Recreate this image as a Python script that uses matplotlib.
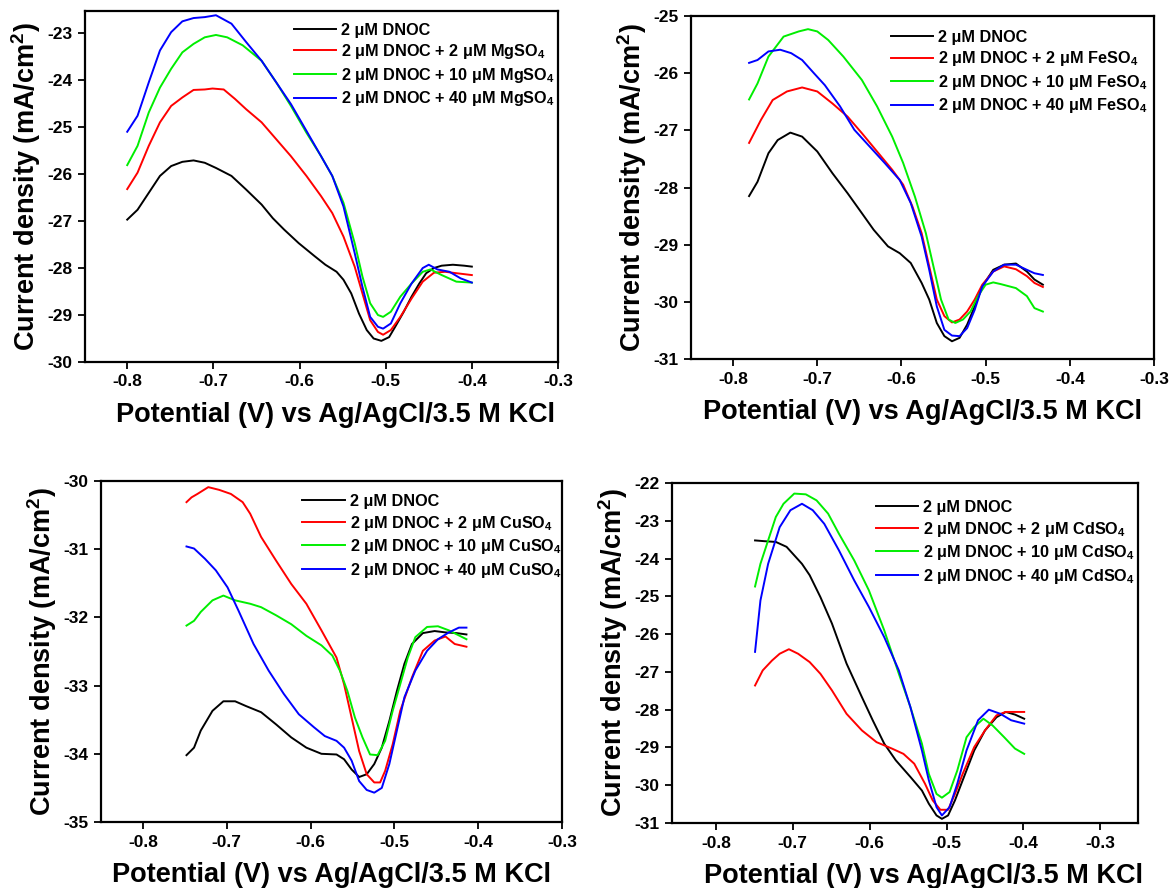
import matplotlib
matplotlib.use("Agg")
import matplotlib.pyplot as plt

plt.rcParams['font.family'] = ['Liberation Sans', 'DejaVu Sans']
plt.rcParams['font.weight'] = 'bold'
plt.rcParams['mathtext.fontset'] = 'custom'
plt.rcParams['mathtext.rm'] = 'Liberation Sans:bold'
plt.rcParams['mathtext.bf'] = 'Liberation Sans:bold'
plt.rcParams['mathtext.default'] = 'bf'

# ---------------- Panel 1: MgSO4 ----------------
mg_black_x = [-0.8, -0.788, -0.775, -0.762, -0.749, -0.736, -0.723, -0.71, -0.697, -0.679, -0.662, -0.644, -0.631, -0.618, -0.601, -0.583, -0.570, -0.557, -0.549, -0.540, -0.531, -0.522, -0.514, -0.505, -0.496, -0.488, -0.479, -0.470, -0.461, -0.453, -0.444, -0.435, -0.422, -0.409, -0.4]
mg_black_y = [-26.97, -26.76, -26.4, -26.04, -25.83, -25.74, -25.71, -25.76, -25.87, -26.04, -26.33, -26.65, -26.94, -27.18, -27.47, -27.74, -27.93, -28.08, -28.25, -28.54, -28.97, -29.32, -29.5, -29.55, -29.47, -29.22, -28.93, -28.61, -28.33, -28.11, -28.0, -27.95, -27.93, -27.95, -27.97]
mg_red_x = [-0.8, -0.788, -0.775, -0.762, -0.749, -0.736, -0.723, -0.71, -0.701, -0.688, -0.675, -0.662, -0.644, -0.627, -0.610, -0.592, -0.575, -0.562, -0.549, -0.536, -0.527, -0.518, -0.509, -0.503, -0.494, -0.483, -0.470, -0.457, -0.444, -0.431, -0.418, -0.4]
mg_red_y = [-26.32, -25.97, -25.4, -24.9, -24.55, -24.37, -24.21, -24.2, -24.18, -24.2, -24.4, -24.62, -24.9, -25.26, -25.62, -26.04, -26.47, -26.83, -27.33, -27.97, -28.54, -29.11, -29.36, -29.42, -29.32, -29.04, -28.65, -28.29, -28.1, -28.08, -28.11, -28.15]
mg_green_x = [-0.8, -0.788, -0.775, -0.762, -0.749, -0.736, -0.723, -0.71, -0.697, -0.684, -0.666, -0.644, -0.627, -0.610, -0.592, -0.575, -0.562, -0.549, -0.536, -0.527, -0.518, -0.509, -0.503, -0.494, -0.483, -0.470, -0.457, -0.448, -0.435, -0.418, -0.4]
mg_green_y = [-25.81, -25.4, -24.69, -24.16, -23.76, -23.41, -23.23, -23.09, -23.04, -23.09, -23.26, -23.59, -24.05, -24.55, -25.12, -25.62, -26.04, -26.61, -27.47, -28.18, -28.75, -29.0, -29.04, -28.93, -28.61, -28.33, -28.08, -28.03, -28.15, -28.29, -28.31]
mg_blue_x = [-0.8, -0.788, -0.775, -0.762, -0.749, -0.736, -0.723, -0.71, -0.697, -0.679, -0.662, -0.644, -0.627, -0.610, -0.592, -0.575, -0.562, -0.549, -0.536, -0.527, -0.518, -0.509, -0.503, -0.494, -0.483, -0.470, -0.457, -0.450, -0.440, -0.426, -0.413, -0.4]
mg_blue_y = [-25.1, -24.76, -24.05, -23.37, -22.98, -22.75, -22.68, -22.66, -22.62, -22.8, -23.19, -23.59, -24.05, -24.51, -25.08, -25.62, -26.04, -26.69, -27.68, -28.4, -29.04, -29.25, -29.29, -29.18, -28.75, -28.33, -28.0, -27.93, -28.03, -28.08, -28.22, -28.31]

# ---------------- Panel 2: FeSO4 ----------------
fe_black_x = [-0.781, -0.771, -0.758, -0.747, -0.732, -0.718, -0.7, -0.682, -0.664, -0.647, -0.633, -0.616, -0.602, -0.589, -0.576, -0.567, -0.558, -0.549, -0.540, -0.531, -0.522, -0.513, -0.504, -0.491, -0.478, -0.464, -0.451, -0.442, -0.432]
fe_black_y = [-28.15, -27.9, -27.4, -27.17, -27.04, -27.11, -27.37, -27.75, -28.1, -28.45, -28.74, -29.03, -29.15, -29.32, -29.67, -29.96, -30.37, -30.6, -30.69, -30.63, -30.4, -30.08, -29.73, -29.44, -29.35, -29.33, -29.47, -29.61, -29.7]
fe_red_x = [-0.781, -0.767, -0.753, -0.736, -0.718, -0.7, -0.682, -0.664, -0.647, -0.629, -0.611, -0.598, -0.587, -0.576, -0.567, -0.558, -0.549, -0.540, -0.531, -0.522, -0.513, -0.504, -0.491, -0.478, -0.464, -0.451, -0.442, -0.432]
fe_red_y = [-27.22, -26.82, -26.47, -26.32, -26.25, -26.32, -26.53, -26.76, -27.05, -27.37, -27.69, -27.95, -28.33, -28.8, -29.38, -29.96, -30.25, -30.36, -30.31, -30.17, -29.96, -29.7, -29.47, -29.38, -29.43, -29.55, -29.67, -29.74]
fe_green_x = [-0.781, -0.771, -0.758, -0.74, -0.722, -0.711, -0.7, -0.687, -0.669, -0.647, -0.629, -0.611, -0.598, -0.584, -0.571, -0.562, -0.553, -0.544, -0.536, -0.527, -0.518, -0.509, -0.5, -0.491, -0.482, -0.464, -0.451, -0.442, -0.432]
fe_green_y = [-26.46, -26.18, -25.71, -25.36, -25.27, -25.23, -25.27, -25.42, -25.71, -26.12, -26.58, -27.11, -27.57, -28.16, -28.8, -29.38, -29.96, -30.31, -30.37, -30.31, -30.17, -29.9, -29.7, -29.66, -29.69, -29.76, -29.9, -30.11, -30.17]
fe_blue_x = [-0.781, -0.771, -0.758, -0.744, -0.731, -0.718, -0.704, -0.691, -0.673, -0.656, -0.638, -0.62, -0.602, -0.589, -0.576, -0.567, -0.558, -0.549, -0.540, -0.531, -0.522, -0.513, -0.504, -0.491, -0.478, -0.464, -0.451, -0.442, -0.432]
fe_blue_y = [-25.82, -25.77, -25.62, -25.59, -25.65, -25.77, -26.0, -26.21, -26.58, -26.99, -27.28, -27.57, -27.87, -28.27, -28.86, -29.44, -30.08, -30.49, -30.59, -30.6, -30.46, -30.14, -29.73, -29.47, -29.35, -29.35, -29.44, -29.5, -29.53]

# ---------------- Panel 3: CuSO4 ----------------
cu_black_x = [-0.748, -0.739, -0.731, -0.717, -0.704, -0.69, -0.677, -0.659, -0.641, -0.623, -0.605, -0.587, -0.569, -0.560, -0.551, -0.542, -0.533, -0.524, -0.515, -0.506, -0.497, -0.488, -0.479, -0.466, -0.452, -0.439, -0.426, -0.414]
cu_black_y = [-34.02, -33.91, -33.66, -33.37, -33.23, -33.23, -33.3, -33.39, -33.57, -33.76, -33.91, -34.0, -34.01, -34.08, -34.23, -34.34, -34.3, -34.15, -33.91, -33.52, -33.08, -32.68, -32.39, -32.23, -32.2, -32.22, -32.23, -32.25]
cu_red_x = [-0.748, -0.742, -0.735, -0.722, -0.709, -0.695, -0.681, -0.672, -0.659, -0.641, -0.623, -0.605, -0.587, -0.569, -0.560, -0.551, -0.542, -0.533, -0.524, -0.517, -0.511, -0.502, -0.493, -0.479, -0.466, -0.452, -0.439, -0.428, -0.414]
cu_red_y = [-30.31, -30.24, -30.19, -30.09, -30.13, -30.19, -30.31, -30.48, -30.82, -31.17, -31.51, -31.8, -32.19, -32.59, -32.98, -33.47, -33.96, -34.3, -34.42, -34.42, -34.25, -33.86, -33.37, -32.88, -32.49, -32.34, -32.28, -32.39, -32.43]
cu_green_x = [-0.748, -0.739, -0.731, -0.717, -0.704, -0.69, -0.672, -0.659, -0.641, -0.623, -0.605, -0.587, -0.574, -0.565, -0.556, -0.547, -0.538, -0.529, -0.520, -0.511, -0.502, -0.493, -0.484, -0.475, -0.461, -0.448, -0.435, -0.414]
cu_green_y = [-32.12, -32.05, -31.92, -31.75, -31.68, -31.75, -31.8, -31.85, -31.97, -32.1, -32.27, -32.41, -32.56, -32.78, -33.08, -33.47, -33.76, -34.01, -34.02, -33.81, -33.37, -32.98, -32.59, -32.29, -32.14, -32.13, -32.19, -32.32]
cu_blue_x = [-0.748, -0.739, -0.726, -0.713, -0.699, -0.686, -0.668, -0.650, -0.632, -0.614, -0.596, -0.583, -0.569, -0.560, -0.551, -0.542, -0.533, -0.524, -0.515, -0.506, -0.497, -0.488, -0.475, -0.461, -0.448, -0.435, -0.423, -0.414]
cu_blue_y = [-30.96, -30.99, -31.14, -31.31, -31.56, -31.9, -32.39, -32.78, -33.12, -33.42, -33.61, -33.74, -33.81, -33.91, -34.1, -34.4, -34.53, -34.57, -34.5, -34.15, -33.66, -33.17, -32.78, -32.49, -32.32, -32.22, -32.15, -32.15]

# ---------------- Panel 4: CdSO4 ----------------
cd_black_x = [-0.749, -0.737, -0.722, -0.708, -0.688, -0.678, -0.664, -0.649, -0.630, -0.610, -0.596, -0.581, -0.566, -0.547, -0.532, -0.523, -0.513, -0.506, -0.498, -0.489, -0.479, -0.464, -0.450, -0.435, -0.423, -0.411, -0.399]
cd_black_y = [-23.52, -23.54, -23.56, -23.69, -24.14, -24.44, -25.02, -25.72, -26.78, -27.67, -28.28, -28.9, -29.34, -29.78, -30.14, -30.49, -30.8, -30.89, -30.8, -30.4, -29.87, -29.08, -28.55, -28.2, -28.06, -28.13, -28.24]
cd_red_x = [-0.749, -0.739, -0.727, -0.717, -0.705, -0.693, -0.678, -0.664, -0.649, -0.630, -0.610, -0.591, -0.571, -0.556, -0.542, -0.528, -0.518, -0.508, -0.498, -0.489, -0.479, -0.464, -0.450, -0.435, -0.423, -0.399]
cd_red_y = [-27.36, -26.96, -26.7, -26.52, -26.4, -26.52, -26.74, -27.05, -27.49, -28.11, -28.55, -28.86, -29.03, -29.17, -29.43, -29.96, -30.4, -30.65, -30.65, -30.23, -29.7, -28.99, -28.55, -28.15, -28.06, -28.06]
cd_green_x = [-0.749, -0.742, -0.732, -0.722, -0.712, -0.698, -0.683, -0.669, -0.654, -0.640, -0.620, -0.601, -0.581, -0.562, -0.547, -0.532, -0.523, -0.513, -0.506, -0.496, -0.486, -0.474, -0.464, -0.452, -0.440, -0.425, -0.411, -0.399]
cd_green_y = [-24.74, -24.14, -23.52, -22.9, -22.55, -22.28, -22.3, -22.46, -22.81, -23.34, -24.05, -24.84, -25.9, -27.05, -27.93, -28.9, -29.7, -30.23, -30.33, -30.18, -29.61, -28.73, -28.46, -28.24, -28.42, -28.73, -29.03, -29.17]
cd_blue_x = [-0.749, -0.742, -0.732, -0.717, -0.703, -0.688, -0.674, -0.659, -0.640, -0.620, -0.601, -0.581, -0.562, -0.547, -0.532, -0.523, -0.513, -0.506, -0.496, -0.486, -0.474, -0.459, -0.445, -0.430, -0.416, -0.399]
cd_blue_y = [-26.47, -25.11, -24.14, -23.17, -22.72, -22.55, -22.72, -23.08, -23.78, -24.58, -25.28, -26.08, -26.96, -27.93, -29.08, -29.87, -30.58, -30.8, -30.58, -29.96, -29.08, -28.28, -28.0, -28.11, -28.28, -28.37]

x_ticks = [-0.8, -0.7, -0.6, -0.5, -0.4, -0.3]
x_tick_labels = ['-0.8', '-0.7', '-0.6', '-0.5', '-0.4', '-0.3']

panels = [
    dict(salt='MgSO', series=[(mg_black_x, mg_black_y), (mg_red_x, mg_red_y), (mg_green_x, mg_green_y), (mg_blue_x, mg_blue_y)],
         rect=(85, 11, 558, 362), xlim=(-0.849, -0.3), ylim=(-30, -22.53), yticks=list(range(-30, -22)),
         leg=(0.442, 0.967), xlab_x=0.53),
    dict(salt='FeSO', series=[(fe_black_x, fe_black_y), (fe_red_x, fe_red_y), (fe_green_x, fe_green_y), (fe_blue_x, fe_blue_y)],
         rect=(691, 16, 1154, 359), xlim=(-0.85, -0.3), ylim=(-31, -25), yticks=list(range(-31, -24)),
         leg=(0.432, 0.96), xlab_x=0.5),
    dict(salt='CuSO', series=[(cu_black_x, cu_black_y), (cu_red_x, cu_red_y), (cu_green_x, cu_green_y), (cu_blue_x, cu_blue_y)],
         rect=(101, 481, 562, 822), xlim=(-0.85, -0.3), ylim=(-35, -30), yticks=list(range(-35, -29)),
         leg=(0.437, 0.962), xlab_x=0.5),
    dict(salt='CdSO', series=[(cd_black_x, cd_black_y), (cd_red_x, cd_red_y), (cd_green_x, cd_green_y), (cd_blue_x, cd_blue_y)],
         rect=(672, 483, 1138, 823), xlim=(-0.857, -0.251), ylim=(-31, -22), yticks=list(range(-31, -21)),
         leg=(0.438, 0.95), xlab_x=0.54),
]

colors = ['#000000', '#ff0000', '#00ee00', '#0000ff']
W, H = 1169, 888
fig = plt.figure(figsize=(W / 100, H / 100), dpi=100)

for p in panels:
    l, t, r, b = p['rect']
    ax = fig.add_axes([l / W, 1 - b / H, (r - l) / W, (b - t) / H])
    salt = p['salt']
    labels = ['2 μM DNOC',
              '2 μM DNOC + 2 μM ' + salt + '$_4$',
              '2 μM DNOC + 10 μM ' + salt + '$_4$',
              '2 μM DNOC + 40 μM ' + salt + '$_4$']
    for (xs, ys), c, lab in zip(p['series'], colors, labels):
        ax.plot(xs, ys, color=c, lw=1.4, label=lab)
    ax.set_xlim(*p['xlim'])
    ax.set_ylim(*p['ylim'])
    ax.set_xticks(x_ticks)
    ax.set_xticklabels(x_tick_labels)
    ax.set_yticks(p['yticks'])
    ax.set_yticklabels([str(v) for v in p['yticks']])
    ax.tick_params(direction='out', length=5, width=1.3, labelsize=12.5, pad=4)
    for lbl in ax.get_xticklabels() + ax.get_yticklabels():
        lbl.set_fontweight('bold')
    for s in ax.spines.values():
        s.set_linewidth(1.6)
    ax.set_xlabel('Potential (V) vs Ag/AgCl/3.5 M KCl', fontsize=19.5, fontweight='bold', labelpad=9)
    ax.xaxis.label.set_x(p['xlab_x'])
    ax.set_ylabel('Current density (mA/cm$^2$)', fontsize=19.5, fontweight='bold', labelpad=3)
    leg = ax.legend(loc='upper left', bbox_to_anchor=p['leg'], frameon=False, fontsize=11.7,
                    handlelength=2.6, handletextpad=0.3, labelspacing=0.28, borderpad=0,
                    borderaxespad=0)
    for txt in leg.get_texts():
        txt.set_fontweight('bold')

fig.savefig('out.png', dpi=100)
